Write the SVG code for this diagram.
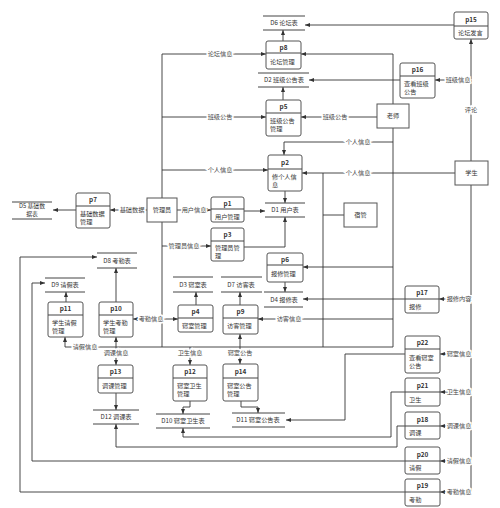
<svg xmlns="http://www.w3.org/2000/svg" width="500" height="508" viewBox="0 0 500 508">
<defs>
<style>
text{font-family:"Noto Sans CJK SC","Liberation Sans",sans-serif;font-size:6.2px;fill:#333}
.h{font-weight:bold;text-anchor:middle;font-size:6.4px}
.c{text-anchor:middle}
.lb{text-anchor:middle;fill:#444;stroke:#fff;stroke-width:3px;paint-order:stroke}
.bx{fill:#fff;stroke:#555;stroke-width:1}
.ds{stroke:#444;stroke-width:1}
.ln{fill:none;stroke:#333;stroke-width:0.9}
.ar{marker-end:url(#a)}
.ab{marker-end:url(#a);marker-start:url(#a)}
</style>
<marker id="a" viewBox="0 0 10 10" refX="10" refY="5" markerWidth="5" markerHeight="5" orient="auto-start-reverse" markerUnits="userSpaceOnUse"><path d="M0,1 L10,5 L0,9 z" fill="#333"/></marker>
</defs>
<rect width="500" height="508" fill="#fff"/>

<g id="connectors">
<path class="ln ar" d="M162,198 V54 H266"/>
<path class="ln ar" d="M162,117 H266"/>
<path class="ln ar" d="M162,170 H268"/>
<path class="ln ar" d="M177,210 H211"/>
<path class="ln ar" d="M162,246 H211"/>
<path class="ln ar" d="M147,210 H110"/>
<path class="ln" d="M162,222 V347"/>
<path class="ln ar" d="M76,210 H53"/>
<path class="ln ar" d="M393,104 V54 H301"/>
<path class="ln ar" d="M377,117 H301"/>
<path class="ln" d="M393,128 V347"/>
<path class="ln ar" d="M393,142 H284 V155"/>
<path class="ln ar" d="M393,267 H303"/>
<path class="ln ar" d="M393,319 H258"/>
<path class="ln ar" d="M283,41 V30"/>
<path class="ln ar" d="M454,25 H305"/>
<path class="ln ar" d="M283,100 V87"/>
<path class="ln ar" d="M400,80 H309"/>
<path class="ln ar" d="M471,161 V39"/>
<path class="ln ar" d="M471,80 H435"/>
<path class="ln ar" d="M455,173 H302"/>
<path class="ln" d="M471,185 V492"/>
<path class="ln ar" d="M471,299 H439"/>
<path class="ln ar" d="M471,354 H440"/>
<path class="ln ar" d="M471,392 H440"/>
<path class="ln ar" d="M471,426 H440"/>
<path class="ln ar" d="M471,461 H440"/>
<path class="ln ar" d="M471,492 H440"/>
<path class="ln" d="M344,215 H323"/>
<path class="ln" d="M323,173 V347"/>
<path class="ln ar" d="M285,191 V203"/>
<path class="ln ar" d="M244,211 H265"/>
<path class="ln ar" d="M244,247 H285 V217"/>
<path class="ln ar" d="M285,282 V292"/>
<path class="ln ar" d="M405,299 H303"/>
<path class="ln ar" d="M196,305 V292"/>
<path class="ln ar" d="M240,305 V292"/>
<path class="ln ar" d="M116,302 V268"/>
<path class="ln ar" d="M66,302 V292"/>
<path class="ln ab" d="M133,319 H178"/>
<path class="ln" d="M65,347 H393"/>
<path class="ln ar" d="M65,347 V337"/>
<path class="ln ar" d="M116,347 V337"/>
<path class="ln ar" d="M116,347 V365"/>
<path class="ln ar" d="M190,347 V365"/>
<path class="ln ar" d="M240,347 V334"/>
<path class="ln ar" d="M240,347 V364"/>
<path class="ln ar" d="M116,393 V410"/>
<path class="ln ar" d="M190,401 V407 H183 V414"/>
<path class="ln ar" d="M241,401 V407 H258 V413"/>
<path class="ln ar" d="M405,354 H345 V420 H286"/>
<path class="ln ar" d="M405,392 H391 V437 H183 V428"/>
<path class="ln ar" d="M405,426 H397 V447 H116 V424"/>
<path class="ln ar" d="M405,461 H32 V283 H45"/>
<path class="ln ar" d="M405,492 H20 V257 H97"/>

<text class="lb" x="220" y="56.2">论坛信息</text>
<text class="lb" x="220" y="119.2">班级公告</text>
<text class="lb" x="220" y="172.2">个人信息</text>
<text class="lb" x="194" y="212.2">用户信息</text>
<text class="lb" x="184" y="248.2">管理员信息</text>
<text class="lb" x="132" y="212.2">基础数据</text>
<text class="lb" x="335" y="119.2">班级公告</text>
<text class="lb" x="358" y="144.2">个人信息</text>
<text class="lb" x="358" y="175.2">个人信息</text>
<text class="lb" x="289" y="321.2">访客信息</text>
<text class="lb" x="471" y="112.2">评论</text>
<text class="lb" x="458" y="82.2">班级信息</text>
<text class="lb" x="459" y="301.2">报修内容</text>
<text class="lb" x="459" y="356.2">寝室信息</text>
<text class="lb" x="459" y="394.2">卫生信息</text>
<text class="lb" x="459" y="428.2">调课信息</text>
<text class="lb" x="459" y="463.2">请假信息</text>
<text class="lb" x="459" y="494.2">考勤信息</text>
<text class="lb" x="151" y="321.2">考勤信息</text>
<text class="lb" x="85" y="349.2">请假信息</text>
<text class="lb" x="116" y="355.2">调课信息</text>
<text class="lb" x="190" y="355.2">卫生信息</text>
<text class="lb" x="240" y="355.2">寝室公告</text>
</g>

<g id="D6"><line class="ds" x1="263" y1="16" x2="305" y2="16"/><line class="ds" x1="263" y1="30" x2="305" y2="30"/><text class="c" x="284" y="25.2">D6 论坛表</text></g>
<g id="D2"><line class="ds" x1="258" y1="73" x2="309" y2="73"/><line class="ds" x1="258" y1="87" x2="309" y2="87"/><text class="c" x="284" y="82.2">D2 班级公告表</text></g>
<g id="D1"><line class="ds" x1="265" y1="203" x2="305" y2="203"/><line class="ds" x1="265" y1="217" x2="305" y2="217"/><text class="c" x="285" y="212.2">D1 用户表</text></g>
<g id="D5"><line class="ds" x1="12" y1="202" x2="52" y2="202"/><line class="ds" x1="12" y1="219" x2="52" y2="219"/><text class="c" x="32" y="208.3" style="font-size:5.8px">D5 基础数</text><text class="c" x="32" y="215.8" style="font-size:5.8px">据表</text></g>
<g id="D8"><line class="ds" x1="97" y1="253" x2="137" y2="253"/><line class="ds" x1="97" y1="268" x2="137" y2="268"/><text class="c" x="117" y="262.7">D8 考勤表</text></g>
<g id="D9"><line class="ds" x1="45" y1="278" x2="85" y2="278"/><line class="ds" x1="45" y1="292" x2="85" y2="292"/><text class="c" x="65" y="287.2">D9 请假表</text></g>
<g id="D3"><line class="ds" x1="173" y1="277" x2="213" y2="277"/><line class="ds" x1="173" y1="292" x2="213" y2="292"/><text class="c" x="193" y="286.7">D3 寝室表</text></g>
<g id="D7"><line class="ds" x1="221" y1="277" x2="262" y2="277"/><line class="ds" x1="221" y1="292" x2="262" y2="292"/><text class="c" x="241" y="286.7">D7 访客表</text></g>
<g id="D4"><line class="ds" x1="264" y1="292" x2="303" y2="292"/><line class="ds" x1="264" y1="307" x2="303" y2="307"/><text class="c" x="284" y="301.7">D4 报修表</text></g>
<g id="D12"><line class="ds" x1="93" y1="410" x2="139" y2="410"/><line class="ds" x1="93" y1="424" x2="139" y2="424"/><text class="c" x="116" y="419.2">D12 调课表</text></g>
<g id="D10"><line class="ds" x1="156" y1="414" x2="210" y2="414"/><line class="ds" x1="156" y1="428" x2="210" y2="428"/><text class="c" x="183" y="423.2">D10 寝室卫生表</text></g>
<g id="D11"><line class="ds" x1="232" y1="413" x2="285" y2="413"/><line class="ds" x1="232" y1="427" x2="285" y2="427"/><text class="c" x="258" y="422.2">D11 寝室公告表</text></g>

<g id="admin"><rect class="bx" x="147" y="198" width="30" height="24"/><text class="c" x="162" y="212.2">管理员</text></g>
<g id="teacher"><rect class="bx" x="377" y="104" width="32" height="24"/><text class="c" x="393" y="118.2">老师</text></g>
<g id="student"><rect class="bx" x="455" y="161" width="33" height="24"/><text class="c" x="471.5" y="175.2">学生</text></g>
<g id="dorm"><rect class="bx" x="344" y="203" width="33" height="24"/><text class="c" x="360.5" y="217.2">宿管</text></g>

<g id="p15"><rect class="bx" x="454" y="12" width="34" height="27" rx="2"/><line class="ds" x1="454" y1="26" x2="488" y2="26"/><text class="h" x="471" y="21.5">p15</text><text x="458" y="35">论坛发言</text></g>
<g id="p8"><rect class="bx" x="266" y="41" width="35" height="28" rx="2"/><line class="ds" x1="266" y1="53" x2="301" y2="53"/><text class="h" x="283.5" y="49.5">p8</text><text x="270" y="64">论坛管理</text></g>
<g id="p16"><rect class="bx" x="400" y="63" width="35" height="35" rx="2"/><line class="ds" x1="400" y1="76" x2="435" y2="76"/><text class="h" x="417.5" y="72">p16</text><text x="404" y="86">查看班级</text><text x="404" y="94">公告</text></g>
<g id="p5"><rect class="bx" x="266" y="100" width="35" height="36" rx="2"/><line class="ds" x1="266" y1="113" x2="301" y2="113"/><text class="h" x="283.5" y="109">p5</text><text x="270" y="123">班级公告</text><text x="270" y="131">管理</text></g>
<g id="p2"><rect class="bx" x="268" y="155" width="34" height="36" rx="2"/><line class="ds" x1="268" y1="169" x2="302" y2="169"/><text class="h" x="285" y="164.5">p2</text><text x="272" y="179">修个人信</text><text x="272" y="187">息</text></g>
<g id="p7"><rect class="bx" x="76" y="193" width="34" height="35" rx="2"/><line class="ds" x1="76" y1="206" x2="110" y2="206"/><text class="h" x="93" y="202">p7</text><text x="80" y="216">基础数据</text><text x="80" y="224">管理</text></g>
<g id="p1"><rect class="bx" x="211" y="197" width="33" height="25" rx="2"/><line class="ds" x1="211" y1="209" x2="244" y2="209"/><text class="h" x="227.5" y="205.5">p1</text><text x="215" y="218.5">用户管理</text></g>
<g id="p3"><rect class="bx" x="211" y="228" width="33" height="33" rx="2"/><line class="ds" x1="211" y1="241" x2="244" y2="241"/><text class="h" x="227.5" y="237">p3</text><text x="215" y="250">管理员管</text><text x="215" y="258">理</text></g>
<g id="p6"><rect class="bx" x="267" y="253" width="36" height="29" rx="2"/><line class="ds" x1="267" y1="265" x2="303" y2="265"/><text class="h" x="285" y="261.5">p6</text><text x="271" y="276">报修管理</text></g>
<g id="p17"><rect class="bx" x="405" y="286" width="34" height="27" rx="2"/><line class="ds" x1="405" y1="299" x2="439" y2="299"/><text class="h" x="422" y="295">p17</text><text x="409" y="309">报修</text></g>
<g id="p4"><rect class="bx" x="178" y="305" width="35" height="27" rx="2"/><line class="ds" x1="178" y1="318" x2="213" y2="318"/><text class="h" x="195.5" y="314">p4</text><text x="182" y="328">寝室管理</text></g>
<g id="p9"><rect class="bx" x="223" y="305" width="35" height="29" rx="2"/><line class="ds" x1="223" y1="318" x2="258" y2="318"/><text class="h" x="240.5" y="314">p9</text><text x="227" y="328">访客管理</text></g>
<g id="p10"><rect class="bx" x="99" y="302" width="34" height="35" rx="2"/><line class="ds" x1="99" y1="315" x2="133" y2="315"/><text class="h" x="116" y="311">p10</text><text x="103" y="324.5">学生考勤</text><text x="103" y="332.5">管理</text></g>
<g id="p11"><rect class="bx" x="48" y="302" width="35" height="35" rx="2"/><line class="ds" x1="48" y1="315" x2="83" y2="315"/><text class="h" x="65.5" y="311">p11</text><text x="52" y="324.5">学生请假</text><text x="52" y="332.5">管理</text></g>
<g id="p22"><rect class="bx" x="405" y="336" width="35" height="37" rx="2"/><line class="ds" x1="405" y1="349" x2="440" y2="349"/><text class="h" x="422.5" y="345">p22</text><text x="409" y="360">查看寝室</text><text x="409" y="368">公告</text></g>
<g id="p13"><rect class="bx" x="98" y="365" width="35" height="28" rx="2"/><line class="ds" x1="98" y1="378" x2="133" y2="378"/><text class="h" x="115.5" y="374">p13</text><text x="102" y="388">调课管理</text></g>
<g id="p12"><rect class="bx" x="173" y="365" width="34" height="36" rx="2"/><line class="ds" x1="173" y1="378" x2="207" y2="378"/><text class="h" x="190" y="374">p12</text><text x="177" y="388">寝室卫生</text><text x="177" y="396">管理</text></g>
<g id="p14"><rect class="bx" x="223" y="364" width="35" height="37" rx="2"/><line class="ds" x1="223" y1="378" x2="258" y2="378"/><text class="h" x="240.5" y="373.5">p14</text><text x="227" y="388">寝室公告</text><text x="227" y="396">管理</text></g>
<g id="p21"><rect class="bx" x="405" y="378" width="35" height="28" rx="2"/><line class="ds" x1="405" y1="392" x2="440" y2="392"/><text class="h" x="422.5" y="387.5">p21</text><text x="409" y="401.5">卫生</text></g>
<g id="p18"><rect class="bx" x="405" y="412" width="35" height="27" rx="2"/><line class="ds" x1="405" y1="426" x2="440" y2="426"/><text class="h" x="422.5" y="421.5">p18</text><text x="409" y="435">调课</text></g>
<g id="p20"><rect class="bx" x="405" y="447" width="35" height="27" rx="2"/><line class="ds" x1="405" y1="461" x2="440" y2="461"/><text class="h" x="422.5" y="456.5">p20</text><text x="409" y="470">请假</text></g>
<g id="p19"><rect class="bx" x="405" y="479" width="35" height="27" rx="2"/><line class="ds" x1="405" y1="492" x2="440" y2="492"/><text class="h" x="422.5" y="488">p19</text><text x="409" y="502">考勤</text></g>
</svg>
